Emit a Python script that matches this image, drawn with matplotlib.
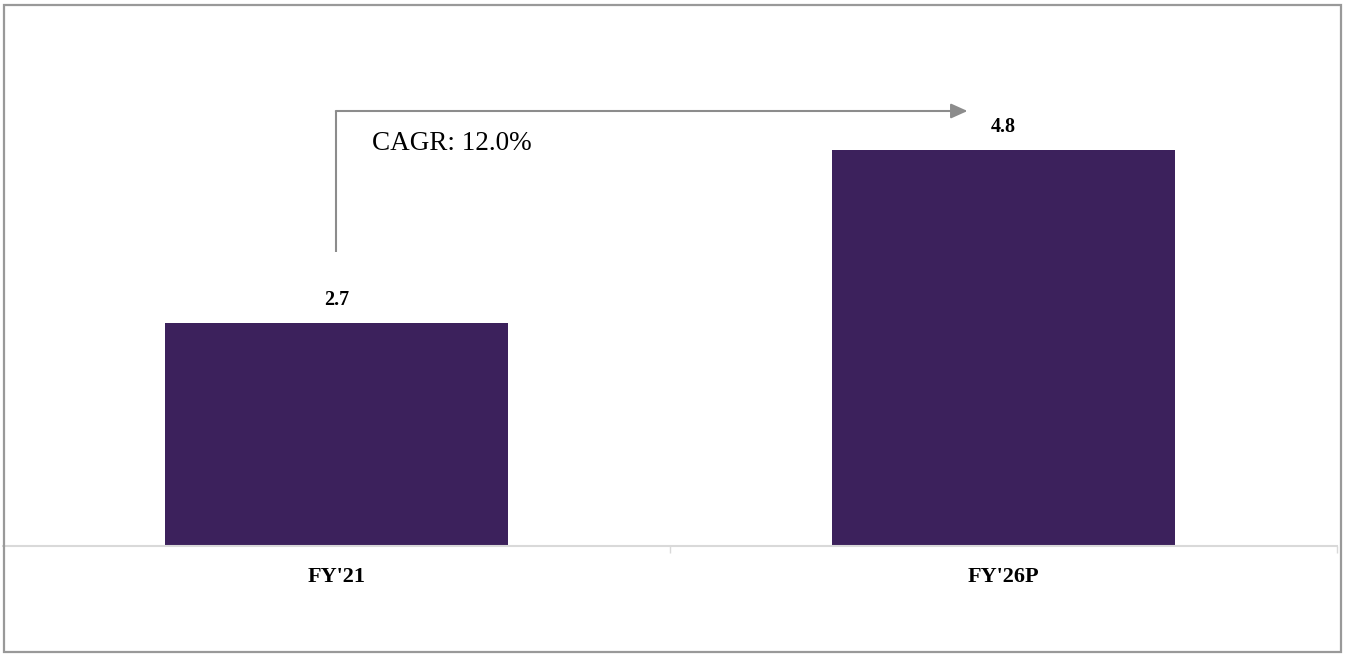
import matplotlib.pyplot as plt
from matplotlib.patches import Rectangle

categories = ["FY'21", "FY'26P"]
values = [2.7, 4.8]
cagr_label = "CAGR: 12.0%"

bar_color = '#3c215c'
grey = '#8c8c8c'

plt.rcParams['font.family'] = ['Liberation Serif', 'DejaVu Serif']

W, H = 1345, 655
fig = plt.figure(figsize=(W / 100, H / 100), dpi=100)

# plot area in pixels: baseline at y=546, spanning x 3..1337
left, right, base, top = 3, 1337, 546, 10
ax = fig.add_axes([left / W, (H - base) / H, (right - left) / W, (base - top) / H])

px_per_unit = 82.6
ax.set_ylim(0, (base - top) / px_per_unit)
ax.set_xlim(-0.5, 1.5)

x = list(range(len(categories)))
ax.bar(x, values, width=0.513, color=bar_color)

for xi, v in zip(x, values):
    ax.text(xi, v + 23 / px_per_unit, f'{v:.1f}', ha='center', va='center',
            fontsize=14.5, fontweight='bold')

# category axis
for s in ['left', 'top', 'right']:
    ax.spines[s].set_visible(False)
ax.spines['bottom'].set_color('#d9d9d9')
ax.spines['bottom'].set_linewidth(1.5)
ax.set_yticks([])
ax.set_xticks(x)
ax.set_xticklabels(categories, fontsize=16, fontweight='bold')
ax.tick_params(axis='x', which='major', length=0, pad=15)
ax.set_xticks([0.5, 1.5], minor=True)
ax.tick_params(axis='x', which='minor', length=5, width=1, color='#d9d9d9')

# growth arrow
y_lo = (base - 252) / px_per_unit
y_hi = (base - 111) / px_per_unit
x_tip = (968 - 337) / 667
ax.plot([0, 0], [y_lo, y_hi], color=grey, lw=1.5, solid_capstyle='butt')
ax.annotate('', xy=(x_tip, y_hi), xytext=(-0.001, y_hi),
            arrowprops=dict(arrowstyle='-|>,head_length=1.0,head_width=0.45',
                            color=grey, lw=1.5, shrinkA=0, shrinkB=0))
ax.text(0.053, (base - 144) / px_per_unit, cagr_label, ha='left', va='center',
        fontsize=19.5)

# outer frame
fig.patches.append(Rectangle((4 / W, 3 / H), (W - 8) / W, (H - 8) / H,
                             transform=fig.transFigure, fill=False,
                             edgecolor='#999999', lw=1.6))

fig.savefig('out.png', dpi=100)
